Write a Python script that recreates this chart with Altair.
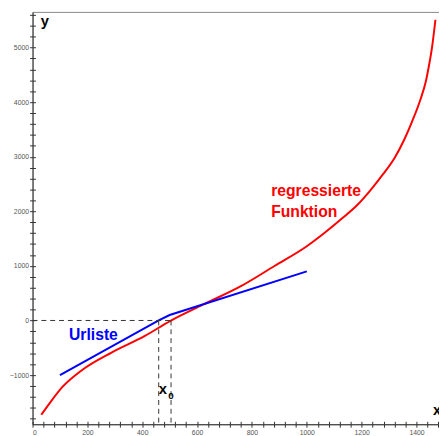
import altair as alt
import pandas as pd

# regressed function (red)
red_x = [32, 62, 109, 181, 288, 408, 503, 623, 763, 882, 1000, 1064, 1129, 1183, 1231, 1278, 1320, 1356, 1386, 1415, 1433, 1445, 1457, 1469]
red_y = [-1727, -1518, -1218, -906, -588, -288, -7, 293, 638, 998, 1359, 1601, 1871, 2110, 2379, 2680, 2978, 3320, 3669, 4058, 4358, 4658, 5018, 5509]
# original list (blue)
blue_x = [100, 460, 500, 1000]
blue_y = [-1000, 0, 100, 900]

x0_blue = 460
x0_red = 505

X_DOM = [0, 1482]
Y_DOM = [-1901, 5653]
W, H = 414, 420

red = pd.DataFrame({"x": red_x, "y": red_y})
blue = pd.DataFrame({"x": blue_x, "y": blue_y})

xs = alt.Scale(domain=X_DOM, nice=False, zero=False)
ys = alt.Scale(domain=Y_DOM, nice=False, zero=False)

x_minor = list(range(0, 1481, 40))
y_minor = list(range(-1800, 5601, 200))

ax_common = dict(grid=False, title=None, labelFont="Liberation Sans", labelFontSize=7,
                 labelColor="#555", tickColor="#333", domainColor="#333", tickSize=3,
                 labelPadding=1, format="d", labelOverlap=False)

x_axis_main = alt.Axis(orient="bottom", values=x_minor,
                       labelExpr="datum.value % 200 == 0 ? datum.label : ''", **ax_common)
y_axis_main = alt.Axis(orient="left", values=y_minor,
                       labelExpr="datum.value % 1000 == 0 ? datum.label : ''", **ax_common)
x_axis_in = alt.Axis(orient="top", offset=-H, values=x_minor, labels=False, domain=False,
                     grid=False, title=None, tickColor="#333", tickSize=3)
y_axis_in = alt.Axis(orient="right", offset=-W, values=y_minor, labels=False, domain=False,
                     grid=False, title=None, tickColor="#333", tickSize=3)

red_line = alt.Chart(red).mark_line(color="#ff0000", strokeWidth=2, interpolate="monotone").encode(
    x=alt.X("x:Q", scale=xs, axis=x_axis_main),
    y=alt.Y("y:Q", scale=ys, axis=y_axis_main),
)
blue_line = alt.Chart(blue).mark_line(color="#0000ff", strokeWidth=2).encode(
    x=alt.X("x:Q", scale=xs, axis=x_axis_in),
    y=alt.Y("y:Q", scale=ys, axis=y_axis_in),
)

hdash = pd.DataFrame({"x": [0], "x2": [x0_red], "y": [0]})
h_rule = alt.Chart(hdash).mark_rule(color="#333", strokeDash=[5, 4], strokeWidth=1).encode(
    x=alt.X("x:Q", scale=xs, axis=None), x2="x2:Q", y=alt.Y("y:Q", scale=ys, axis=None))
vdash = pd.DataFrame({"x": [x0_blue, x0_red], "y": [0, 0]})
v_rule = alt.Chart(vdash).mark_rule(color="#333", strokeDash=[5, 4], strokeWidth=1).encode(
    x=alt.X("x:Q", scale=xs, axis=None), y=alt.Y("y:Q", scale=ys, axis=None), y2=alt.value(H))

def label(txt, x, y, color, size=15, align="left"):
    df = pd.DataFrame({"t": [txt], "x": [x], "y": [y]})
    return alt.Chart(df).mark_text(color=color, fontSize=size, fontWeight="bold",
                                   font="Liberation Sans", align=align, baseline="middle").encode(
        x=alt.X("x:Q", scale=xs, axis=None), y=alt.Y("y:Q", scale=ys, axis=None), text="t:N")

texts = [
    label("y", 30, 5490, "black", 15),
    label("x", 1460, -1650, "black", 15),
    label("x", 460, -1265, "black", 15),
    label("0", 495, -1390, "black", 10),
    label("Urliste", 222, -264, "#0000ff", 16, align="center"),
    label("regressierte", 870, 2375, "#ff0000", 16),
    label("Funktion", 870, 1990, "#ff0000", 16),
]

chart = alt.layer(red_line, blue_line, h_rule, v_rule, *texts).resolve_axis(
    x="independent", y="independent"
).properties(
    width=W, height=H, autosize="none",
    padding={"left": 25, "top": 0, "right": 0, "bottom": 8},
).configure_view(stroke="#888", strokeWidth=1)

chart.save("out.html", embed_options={"renderer": "svg", "actions": False})
